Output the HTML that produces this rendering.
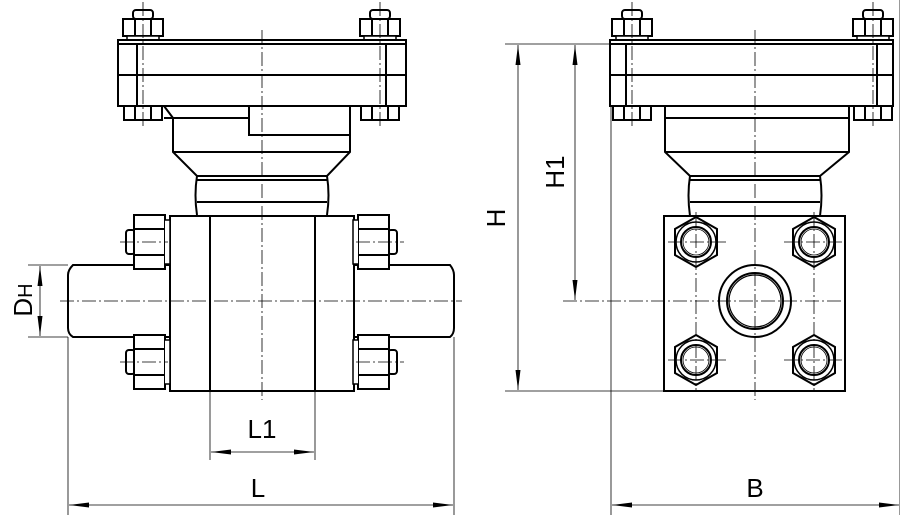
<!DOCTYPE html>
<html><head><style>
html,body{margin:0;padding:0;background:#fff;width:900px;height:521px;overflow:hidden}
svg{display:block}
text{font-family:"Liberation Sans",sans-serif;fill:#000}
</style></head><body>
<svg width="900" height="521" viewBox="0 0 900 521" xmlns="http://www.w3.org/2000/svg">
<defs>
<marker id="a" viewBox="0 0 20 6" refX="20" refY="3" markerWidth="20" markerHeight="6" orient="auto-start-reverse" markerUnits="userSpaceOnUse"><path d="M20,3 L0,0.5 L0,5.5 Z" fill="#000"/></marker>
<g id="nutTop">
<rect x="-10" y="-30" width="20" height="9" rx="3" fill="#fff" stroke="#000" stroke-width="2"/>
<path d="M-20,-21 H20 V-4 H-20 Z M-8,-21 V-4 M8,-21 V-4" fill="#fff" stroke="#000" stroke-width="2"/>
<path d="M-16,-4 H16 V0 H-16 Z" fill="#fff" stroke="#000" stroke-width="1.5"/>
</g>
<g id="nutBot">
<path d="M-19,0 H19 V14 H-19 Z M-8,0 V14 M8,0 V14" fill="#fff" stroke="#000" stroke-width="2"/>
</g>
<g id="nutSide">
<rect x="-17" y="-12" width="9" height="24" rx="3" fill="#fff" stroke="#000" stroke-width="2"/>
<path d="M-9,-27 H22 V27 H-9 Z M-9,-13 H22 M-9,13 H22" fill="#fff" stroke="#000" stroke-width="2"/>
<path d="M22,-22 H27 V22 H22" fill="#fff" stroke="#000" stroke-width="1.5"/>
</g>
<g id="hexv">
<polygon points="0,-25 21,-13 21,13 0,25 -21,13 -21,-13" fill="#fff" stroke="#000" stroke-width="2"/>
<circle r="20" fill="none" stroke="#000" stroke-width="1.5"/>
<circle r="15" fill="none" stroke="#000" stroke-width="2"/>
<circle r="13" fill="none" stroke="#000" stroke-width="0.8"/>
</g>
</defs>

<g fill="none" stroke="#000" stroke-width="2">
<!-- LEFT VIEW -->
<use href="#nutTop" x="143" y="40"/>
<use href="#nutTop" x="380" y="40"/>
<rect x="118" y="40" width="288" height="66" fill="#fff"/>
<line x1="118" y1="44" x2="406" y2="44"/>
<line x1="118" y1="75" x2="406" y2="75"/>
<line x1="137" y1="44" x2="137" y2="106"/>
<line x1="386" y1="44" x2="386" y2="106"/>
<use href="#nutBot" x="143" y="106"/>
<use href="#nutBot" x="380" y="106"/>
<path d="M164,106 L173,118 V152 L197,176 H327 L350,152 V106"/>
<line x1="164" y1="118" x2="249" y2="118"/>
<path d="M249,106 V135 H350"/>
<line x1="173" y1="152" x2="350" y2="152"/>
<path d="M197,176 Q194,195 197,215 M327,176 Q330,195 327,215"/>
<line x1="197" y1="180" x2="327" y2="180"/>
<line x1="197" y1="202" x2="327" y2="202"/>
<!-- pipes -->
<path d="M354,265 H450 Q454,270 454,275 V328 Q454,334 450,337 H354"/>
<path d="M170,265 H73 Q68,270 68,275 V328 Q68,334 73,337 H170"/>
<rect x="170" y="216" width="184" height="175" fill="#fff"/>
<line x1="210" y1="216" x2="210" y2="391"/>
<line x1="315" y1="216" x2="315" y2="391"/>
<use href="#nutSide" x="143" y="242"/>
<use href="#nutSide" x="143" y="362"/>
<g transform="translate(380,242) scale(-1,1)"><use href="#nutSide"/></g>
<g transform="translate(380,362) scale(-1,1)"><use href="#nutSide"/></g>

<!-- RIGHT VIEW -->
<use href="#nutTop" x="632" y="40"/>
<use href="#nutTop" x="873" y="40"/>
<rect x="610" y="40" width="283" height="66" fill="#fff"/>
<line x1="610" y1="44" x2="893" y2="44"/>
<line x1="610" y1="75" x2="893" y2="75"/>
<line x1="626" y1="44" x2="626" y2="106"/>
<line x1="877" y1="44" x2="877" y2="106"/>
<use href="#nutBot" x="632" y="106"/>
<use href="#nutBot" x="873" y="106"/>
<path d="M665,106 V152 L690,176 H820 L849,152 V106"/>
<line x1="665" y1="118" x2="849" y2="118"/>
<line x1="665" y1="152" x2="849" y2="152"/>
<path d="M690,176 Q687,195 690,216 M820,176 Q823,195 820,216"/>
<line x1="690" y1="180" x2="820" y2="180"/>
<line x1="690" y1="202" x2="820" y2="202"/>
<rect x="664" y="216" width="181" height="175" fill="#fff"/>
<use href="#hexv" x="696" y="242"/>
<use href="#hexv" x="814" y="242"/>
<use href="#hexv" x="696" y="360"/>
<use href="#hexv" x="814" y="360"/>
<circle cx="755" cy="301" r="36"/>
<circle cx="755" cy="301" r="28"/>
<circle cx="755" cy="301" r="26" stroke-width="1.2"/>
</g>

<!-- center lines -->
<g stroke="#000" stroke-width="0.8" stroke-dasharray="14,3,2,3" fill="none">
<line x1="262" y1="30" x2="262" y2="400"/>
<line x1="143" y1="2" x2="143" y2="126"/>
<line x1="380" y1="2" x2="380" y2="126"/>
<line x1="120" y1="242" x2="168" y2="242"/>
<line x1="120" y1="362" x2="168" y2="362"/>
<line x1="356" y1="242" x2="404" y2="242"/>
<line x1="356" y1="362" x2="404" y2="362"/>
<line x1="60" y1="301" x2="462" y2="301"/>
<line x1="755" y1="30" x2="755" y2="400"/>
<line x1="632" y1="2" x2="632" y2="126"/>
<line x1="873" y1="2" x2="873" y2="126"/>
<line x1="696" y1="212" x2="696" y2="390"/>
<line x1="814" y1="212" x2="814" y2="390"/>
<line x1="668" y1="242" x2="726" y2="242"/>
<line x1="784" y1="242" x2="842" y2="242"/>
<line x1="668" y1="360" x2="726" y2="360"/>
<line x1="784" y1="360" x2="842" y2="360"/>
<line x1="563" y1="301" x2="848" y2="301"/>
</g>

<!-- dimension / extension lines -->
<g stroke="#000" stroke-width="0.8" fill="none">
<line x1="68" y1="337" x2="68" y2="515"/>
<line x1="454" y1="337" x2="454" y2="515"/>
<line x1="210" y1="391" x2="210" y2="460"/>
<line x1="315" y1="391" x2="315" y2="460"/>
<line x1="611" y1="106" x2="611" y2="515"/>
<line x1="900" y1="0" x2="900" y2="515"/>
<line x1="505" y1="44" x2="610" y2="44"/>
<line x1="505" y1="391" x2="664" y2="391"/>
<line x1="28" y1="265" x2="68" y2="265"/>
<line x1="28" y1="337" x2="68" y2="337"/>
<line x1="69" y1="505" x2="453" y2="505" marker-start="url(#a)" marker-end="url(#a)"/>
<line x1="211" y1="452" x2="314" y2="452" marker-start="url(#a)" marker-end="url(#a)"/>
<line x1="612" y1="505" x2="899" y2="505" marker-start="url(#a)" marker-end="url(#a)"/>
<line x1="518" y1="45" x2="518" y2="390" marker-start="url(#a)" marker-end="url(#a)"/>
<line x1="575" y1="45" x2="575" y2="300" marker-start="url(#a)" marker-end="url(#a)"/>
<line x1="40" y1="266" x2="40" y2="336" marker-start="url(#a)" marker-end="url(#a)"/>
</g>

<g font-size="26">
<text x="258" y="497" text-anchor="middle">L</text>
<text x="262" y="438" text-anchor="middle">L1</text>
<text x="755" y="497" text-anchor="middle">B</text>
<text transform="translate(505,218) rotate(-90)" text-anchor="middle">H</text>
<text transform="translate(564,172) rotate(-90)" text-anchor="middle">H1</text>
<text transform="translate(32,300) rotate(-90)" text-anchor="middle">D<tspan font-size="20">H</tspan></text>
</g>
</svg>
</body></html>
